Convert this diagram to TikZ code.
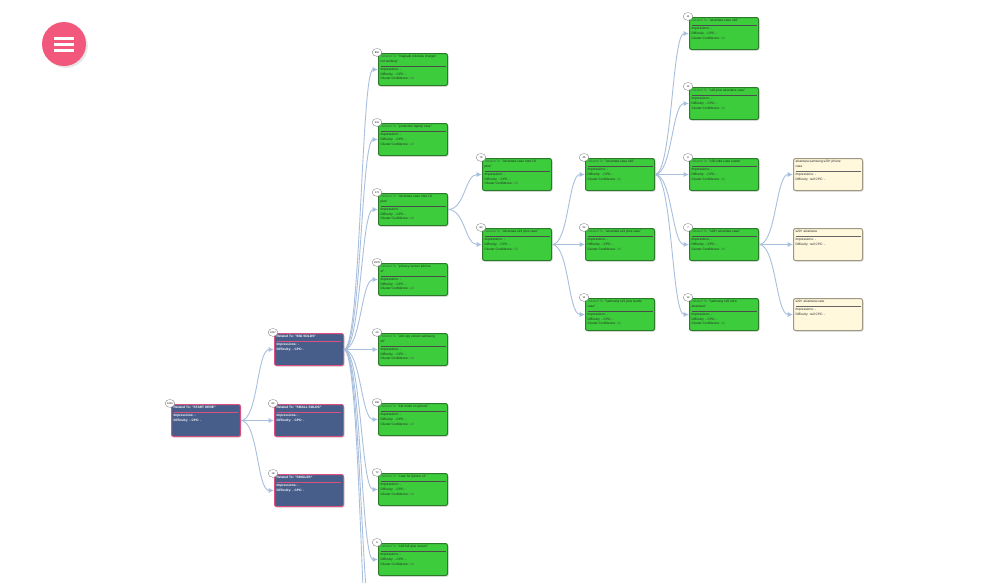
\documentclass[tikz,border=0pt]{standalone}
\usepackage{fontspec}
\setmainfont{Liberation Sans}
\usetikzlibrary{arrows.meta}
\usetikzlibrary{shapes.geometric}
\usetikzlibrary{shadows}

\definecolor{linkblue}{HTML}{A9BFDE}
\definecolor{cardblue}{HTML}{485E8A}
\definecolor{cardpink}{HTML}{DC5080}
\definecolor{cardgreen}{HTML}{3CCC3C}
\definecolor{greenline}{HTML}{2A7A2A}
\definecolor{cardcream}{HTML}{FFF8DC}
\definecolor{creamline}{HTML}{9E9884}
\definecolor{relgray}{HTML}{3F5F3F}
\definecolor{menupink}{HTML}{F2577C}

\newcommand{\cardrule}[1]{\par\vspace{-2pt}\noindent{\color{#1}\rule{\linewidth}{0.35pt}}\par\vspace{-1.5pt}}
\newcommand{\bluecard}[1]{\parbox[c][1.4cm][t]{3.25cm}{\raggedright\bfseries Related To: "#1"\cardrule{cardpink}Impressions: -\par Difficulty: - CPC: -}}
\newcommand{\greencard}[1]{\parbox[c][1.4cm][t]{3.25cm}{\raggedright\textcolor{relgray}{Related To:} "#1"\cardrule{black!70}Impressions: -\par Difficulty: - CPC: -\par Cluster Confidence: \textcolor{relgray}{10}}}
\newcommand{\creamcard}[1]{\parbox[c][1.4cm][t]{3.25cm}{\raggedright #1\cardrule{black!60}Impressions: -\par Difficulty: null CPC: -}}

\begin{document}
\begin{tikzpicture}[x=0.05cm,y=-0.05cm,>={Latex[length=0.27cm,width=0.25cm]},
card/.style={draw,rectangle,rounded corners=0.1cm,anchor=north west,inner sep=0.1cm,minimum width=3.45cm,minimum height=1.6cm,line width=0.05cm,font=\fontsize{4.6}{7}\selectfont,drop shadow={opacity=0.3,shadow xshift=0.05cm,shadow yshift=-0.06cm}},
bluebox/.style={card,fill=cardblue,draw=cardpink,text=white},
greenbox/.style={card,fill=cardgreen,draw=greenline,text=black!85},
creambox/.style={card,fill=cardcream,draw=creamline,text=black!85},
badge/.style={draw=black!55,fill=white,ellipse,inner sep=0.6pt,minimum height=0.4cm,minimum width=0.48cm,font=\fontsize{3.6}{4}\selectfont,text=black,anchor=center,xshift=-0.05cm,yshift=0.03cm},
link/.style={->,draw=linkblue,line width=0.045cm,to path={.. controls ([xshift=0.85cm]\tikztostart) and ([xshift=-0.85cm]\tikztotarget) .. (\tikztotarget)}}]

\fill[white] (0,0) rectangle (1000,582);
\useasboundingbox (0,0) rectangle (1000,582);
\clip (0,0) rectangle (1000,582);

% menu button
\draw (64,44) node[circle,fill=menupink,minimum size=2.2cm,drop shadow={opacity=0.2}] (menu) {};
\fill[white] (54,36.5) rectangle (74,39.5);
\fill[white] (54,42.5) rectangle (74,45.5);
\fill[white] (54,48.5) rectangle (74,51.5);

% root and size groups
\draw (171,404) node[bluebox,label={[badge]north west:4219}] (start) {\bluecard{START HERE}};
\draw (274,333) node[bluebox,label={[badge]north west:4217}] (big) {\bluecard{BIG SOLDS}};
\draw (274,404) node[bluebox,label={[badge]north west:84}] (small) {\bluecard{SMALL SOLDS}};
\draw (274,474) node[bluebox,label={[badge]north west:18}] (single) {\bluecard{SINGLES}};

% keywords of big solds
\draw (378,53) node[greenbox,label={[badge]north west:850}] (magsafe) {\greencard{magsafe wireless charger\\not working}};
\draw (378,123) node[greenbox,label={[badge]north west:431}] (laptop) {\greencard{protection laptop case}};
\draw (378,193) node[greenbox,label={[badge]north west:171}] (note) {\greencard{alcantara case note 10\\plus}};
\draw (378,263) node[greenbox,label={[badge]north west:2879}] (privacy) {\greencard{privacy screen iphone\\xr}};
\draw (378,333) node[greenbox,label={[badge]north west:20}] (antispy) {\greencard{anti spy screen samsung\\s8}};
\draw (378,403) node[greenbox,label={[badge]north west:158}] (kidmode) {\greencard{kid mode on iphone}};
\draw (378,473) node[greenbox,label={[badge]north west:72}] (iphone) {\greencard{case for iphone 11}};
\draw (378,543) node[greenbox,label={[badge]north west:6}] (glue) {\greencard{s20 full glue screen}};
\coordinate (more1) at (378,629);
\coordinate (more2) at (378,699);

% note 10 branch
\draw (482,158) node[greenbox,label={[badge]north west:79}] (noteplus) {\greencard{alcantara case note 10\\plus}};
\draw (482,228) node[greenbox,label={[badge]north west:93}] (splus) {\greencard{alcantara s21 plus case}};

% s21 plus branch
\draw (585,158) node[greenbox,label={[badge]north west:46}] (scase) {\greencard{alcantara case s20}};
\draw (585,228) node[greenbox,label={[badge]north west:34}] (spluscase) {\greencard{alcantara s21 plus case}};
\draw (585,298) node[greenbox,label={[badge]north west:11}] (suede) {\greencard{samsung s21 plus suede\\case}};

% s20 branch
\draw (689,17) node[greenbox,label={[badge]north west:11}] (alccase) {\greencard{alcantara case s20}};
\draw (689,87) node[greenbox,label={[badge]north west:12}] (plusalc) {\greencard{s20 plus alcantara case}};
\draw (689,158) node[greenbox,label={[badge]north west:8}] (ultra) {\greencard{s20 ultra case suede}};
\draw (689,228) node[greenbox,label={[badge]north west:7}] (sevenplus) {\greencard{s20+ alcantara case}};
\draw (689,298) node[greenbox,label={[badge]north west:14}] (ultraalc) {\greencard{samsung s20 ultra\\alcantara}};

% raw keywords
\draw (793,158) node[creambox] (phone) {\creamcard{alcantara samsung s20+ phone\\case}};
\draw (793,228) node[creambox] (alc) {\creamcard{s20+ alcantara}};
\draw (793,298) node[creambox] (alcc) {\creamcard{s20+ alcantara case}};

\draw[link] (start.east) to (big.west);
\draw[link] (start.east) to (small.west);
\draw[link] (start.east) to (single.west);
\draw[link] (big.east) to (magsafe.west);
\draw[link] (big.east) to (laptop.west);
\draw[link] (big.east) to (note.west);
\draw[link] (big.east) to (privacy.west);
\draw[link] (big.east) to (antispy.west);
\draw[link] (big.east) to (kidmode.west);
\draw[link] (big.east) to (iphone.west);
\draw[link] (big.east) to (glue.west);
\draw[link] (big.east) to (more1);
\draw[link] (big.east) to (more2);
\draw[link] (note.east) to (noteplus.west);
\draw[link] (note.east) to (splus.west);
\draw[link] (splus.east) to (scase.west);
\draw[link] (splus.east) to (spluscase.west);
\draw[link] (splus.east) to (suede.west);
\draw[link] (scase.east) to (alccase.west);
\draw[link] (scase.east) to (plusalc.west);
\draw[link] (scase.east) to (ultra.west);
\draw[link] (scase.east) to (sevenplus.west);
\draw[link] (scase.east) to (ultraalc.west);
\draw[link] (sevenplus.east) to (phone.west);
\draw[link] (sevenplus.east) to (alc.west);
\draw[link] (sevenplus.east) to (alcc.west);
\end{tikzpicture}
\end{document}
